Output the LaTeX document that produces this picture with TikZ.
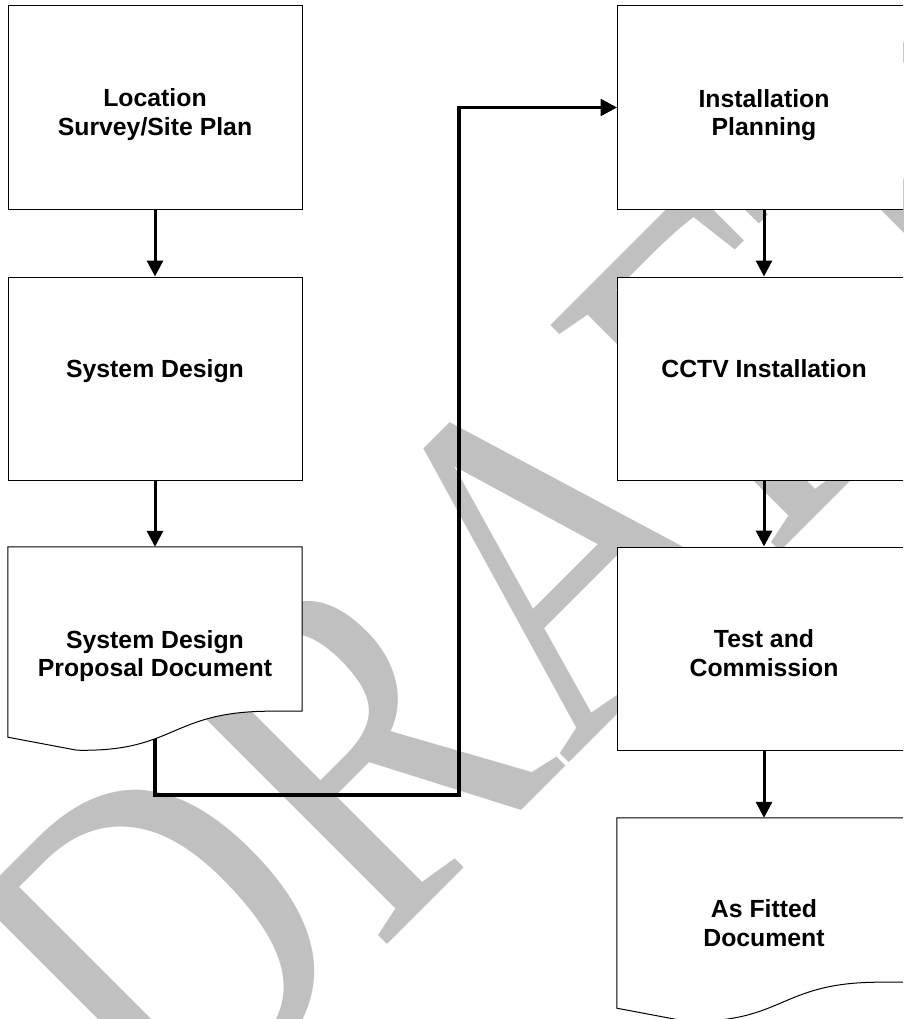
\documentclass[tikz,border=0pt]{standalone}
\usepackage{fontspec}
\setmainfont{Liberation Sans}
\newfontfamily\wmfont{Liberation Serif}
\usetikzlibrary{arrows.meta,calc}
\definecolor{wmgray}{HTML}{C0C0C0}
\begin{document}
\begin{tikzpicture}[x=1pt,y=-1pt,
  box/.style={draw, fill=white, line width=1pt, minimum width=294pt, minimum height=203pt, inner sep=0pt},
  docarea/.style={minimum width=294pt, minimum height=190pt, inner sep=0pt},
  doc/.style={draw, fill=white, line width=1pt},
  lbl/.style={font=\fontsize{24.8}{28.5}\selectfont\bfseries, align=center, inner sep=0pt},
  flow/.style={line width=3pt, -{Triangle[length=16pt,width=16pt]}},
  link/.style={line width=3.5pt, -{Triangle[length=16pt,width=16pt]}},
  wm/.style={text=wmgray, font=\wmfont\fontsize{492}{492}\selectfont, inner sep=0pt, rotate=45, anchor=base west}
]
\useasboundingbox (0,0) rectangle (903,1019);
\clip (0,0) rectangle (903,1019);
\fill[white] (0,0) rectangle (903,1019);
% watermark
\node[wm] (wm) at (173,1159) {\scalebox{0.814}[1]{DRAFT}};
% areas of the document shapes
\node[docarea] (b3) at (155,642) {};
\node[docarea] (b7) at (764,913) {};
\coordinate (c1) at (459,795);
% long connector
\draw[link] (b3.center) |- (c1) |- (617,107.5);
% boxes
\node[box] (b1) at (155,107.5) {};
\node[box] (b2) at (155,378.5) {};
\draw[doc] (b3.north west) -- (b3.north east) -- ($(b3.south east)+(0,-26)$) -- ($(b3.south east)+(-35,-26)$)
  .. controls ($(b3.south west)+(162,-25)$) and ($(b3.south west)+(167,15)$) .. ($(b3.south west)+(69,13)$) -- (b3.south west) -- cycle;
\node[box] (b4) at (764,107.5) {};
\node[box] (b5) at (764,378.5) {};
\node[box] (b6) at (764,648.5) {};
\draw[doc] (b7.north west) -- (b7.north east) -- ($(b7.south east)+(0,-26)$) -- ($(b7.south east)+(-35,-26)$)
  .. controls ($(b7.south west)+(162,-25)$) and ($(b7.south west)+(167,15)$) .. ($(b7.south west)+(69,13)$) -- (b7.south west) -- cycle;
% labels
\node[lbl] (t1) at (155,114.8) {Location\\Survey/Site Plan};
\node[lbl] (t2) at (155,371.6) {System Design};
\node[lbl] (t3) at (155,656) {System Design\\Proposal Document};
\node[lbl] (t4) at (764,114.9) {Installation\\Planning};
\node[lbl] (t5) at (764,369) {CCTV Installation};
\node[lbl] (t6) at (764,653) {Test and\\Commission};
\node[lbl] (t7) at (764,923) {As Fitted\\Document};
% short arrows
\draw[flow] (b1) -- (b2);
\draw[flow] (b2) -- (b3);
\draw[flow] (b4) -- (b5);
\draw[flow] (b5) -- (b6);
\draw[flow] (b6) -- (b7);
\draw[link] (c1 |- b4.west) -- (b4.west);
\end{tikzpicture}
\end{document}
